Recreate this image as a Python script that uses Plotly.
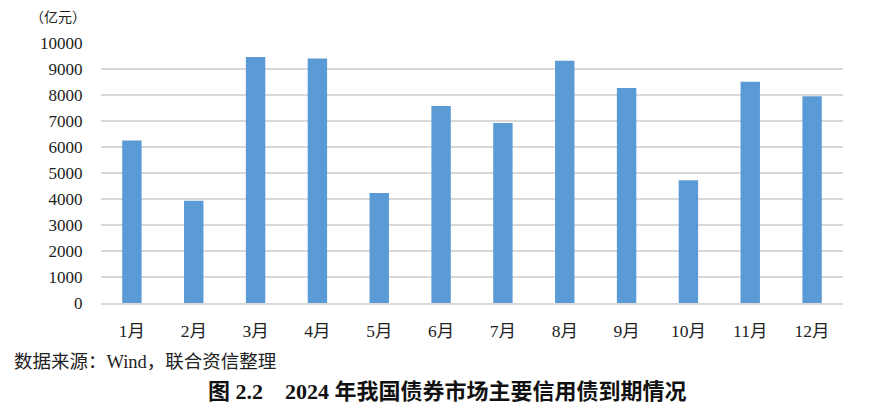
import plotly.graph_objects as go

months = ["1月", "2月", "3月", "4月", "5月", "6月", "7月", "8月", "9月", "10月", "11月", "12月"]
values = [6250, 3930, 9460, 9400, 4230, 7580, 6920, 9320, 8270, 4720, 8510, 7950]
y_ticks = [0, 1000, 2000, 3000, 4000, 5000, 6000, 7000, 8000, 9000, 10000]
y_tick_labels = ["0", "1000", "2000", "3000", "4000", "5000", "6000", "7000", "8000", "9000", "10000"]
unit_label = "（亿元）"
source_text = "数据来源：Wind，联合资信整理"
title_text = "图 2.2　2024 年我国债券市场主要信用债到期情况"

FONT = "Liberation Serif, Noto Sans CJK SC, serif"

# page body has an 8px default margin; figure is sized to fit the 870x410 window
W, H = 862, 402
L, T, PW, PH = 93, 35, 742, 260

fig = go.Figure(go.Bar(x=months, y=values, marker_color="#5b9bd5", marker_line_width=0))

fig.update_layout(
    width=W, height=H,
    margin=dict(l=L, r=W - L - PW, t=T, b=H - T - PH, autoexpand=False),
    paper_bgcolor="white", plot_bgcolor="white",
    bargap=0.686,
    showlegend=False,
    font=dict(family=FONT, size=17, color="#222222"),
)
fig.update_xaxes(
    showgrid=False, showline=True, linecolor="#d9d9d9", linewidth=1.5,
    ticks="outside", ticklen=11, tickcolor="rgba(0,0,0,0)",
    tickfont=dict(family=FONT, size=17.5, color="#222222"),
    automargin=False,
)
fig.update_yaxes(
    range=[0, 10000], tickvals=y_ticks, ticktext=y_tick_labels,
    showgrid=True, gridcolor="#d9d9d9", gridwidth=1.5,
    zeroline=False,
    ticks="outside", ticklen=14, tickcolor="rgba(0,0,0,0)",
    tickfont=dict(family=FONT, size=17, color="#222222"),
    automargin=False,
)

def px(fx):
    return (fx - L) / PW

def py(fy):
    return (T + PH - fy) / PH

fig.add_annotation(text=unit_label, xref="paper", yref="paper", x=px(20), y=py(10),
                   xanchor="left", yanchor="middle", showarrow=False,
                   font=dict(family=FONT, size=14, color="#222222"))
fig.add_annotation(text=source_text, xref="paper", yref="paper", x=px(4), y=py(354),
                   xanchor="left", yanchor="middle", showarrow=False,
                   font=dict(family=FONT, size=18.5, color="#222222"))
fig.add_annotation(text="<b>" + title_text + "</b>", xref="paper", yref="paper",
                   x=px(439), y=py(383),
                   xanchor="center", yanchor="middle", showarrow=False,
                   font=dict(family=FONT, size=22, color="#111111"))

fig.write_html("out.html")
